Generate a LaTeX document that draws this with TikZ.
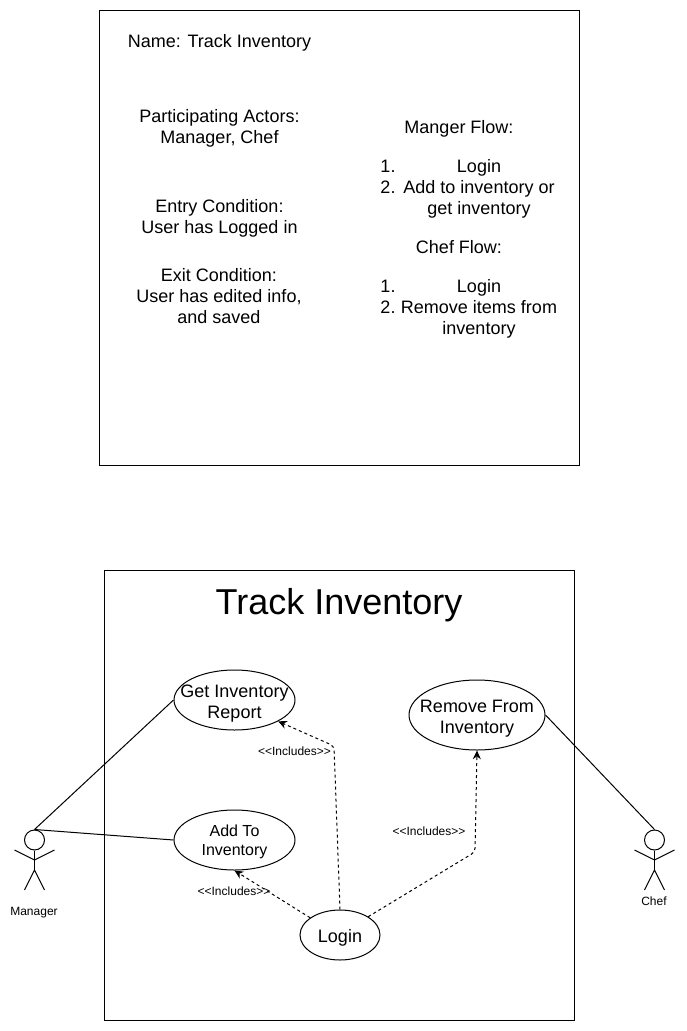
\documentclass[tikz,border=0pt]{standalone}
\usepackage{fontspec}
\setmainfont{Liberation Sans}
\usetikzlibrary{shapes.geometric,arrows.meta}
\tikzset{
  frame/.style={draw,line width=0.75pt,inner sep=0pt},
  body/.style={font=\fontsize{13.5pt}{15.75pt}\selectfont,align=center,inner sep=0pt,text depth=0pt},
  bodysm/.style={font=\fontsize{12pt}{14.5pt}\selectfont,align=center,inner sep=0pt,text depth=0pt},
  small/.style={font=\fontsize{9pt}{11pt}\selectfont,inner sep=0pt},
  usecase/.style={draw,ellipse,line width=0.75pt,inner sep=0pt},
  assoc/.style={line width=0.75pt},
  incl/.style={line width=0.75pt,dash pattern=on 2.25pt off 2.25pt,rounded corners=3pt,-{Stealth[length=6.5pt,width=6pt]}},
  stick/.style={line width=0.75pt},
  head/.style={draw,circle,line width=0.75pt,minimum size=15pt,inner sep=0pt}
}
\newcommand{\actor}[3]{%
  \node[head] (#1) at (#2,#3) {};
  \coordinate (#1hip) at (#2,#3+30);
  \coordinate (#1sh) at (#2,#3+20);
  \coordinate (#1la) at (#2-20,#3+10);
  \coordinate (#1ra) at (#2+20,#3+10);
  \coordinate (#1ll) at (#2-10,#3+50);
  \coordinate (#1rl) at (#2+10,#3+50);
  \draw[stick] (#1.south) -- (#1hip);
  \draw[stick] (#1la) -- (#1sh) -- (#1ra);
  \draw[stick] (#1ll) -- (#1hip) -- (#1rl);
}
\begin{document}
\begin{tikzpicture}[x=0.75pt,y=-0.75pt]
\useasboundingbox[fill=white] (0,0) rectangle (686,1031);
% top card
\node[frame,minimum width=360pt,minimum height=341.25pt] (card) at (339.5,238) {};
\node[body] (name) at (219.5,41) {Name: Track Inventory};
\node[body] (actors) at (219.5,126.5) {Participating Actors:\\Manager, Chef};
\node[body] (entry) at (219.5,216) {Entry Condition:\\User has Logged in};
\node[body] (exit) at (219,296) {Exit Condition:\\User has edited info,\\and saved};
\node[body] (mflow) at (459,127) {Manger Flow:};
\node[body] (m1n) at (388,166) {1.};
\node[body] (m1) at (479,166) {Login};
\node[body] (m2n) at (388,187) {2.};
\node[body] (m2) at (479,187) {Add to inventory or};
\node[body] (m2b) at (479,208) {get inventory};
\node[body] (cflow) at (459,247) {Chef Flow:};
\node[body] (c1n) at (388,286) {1.};
\node[body] (c1) at (479,286) {Login};
\node[body] (c2n) at (388,307) {2.};
\node[body] (c2) at (479,307) {Remove items from};
\node[body] (c2b) at (479,328) {inventory};
% diagram
\node[frame,minimum width=352.5pt,minimum height=337.5pt] (system) at (339.5,795.5) {};
\node[font=\fontsize{27pt}{30pt}\selectfont,inner sep=0pt] (title) at (339,605) {Track Inventory};
\node[usecase,minimum width=90.75pt,minimum height=45pt,label={[body,yshift=-1.5pt]center:Get Inventory\\Report}] (get) at (234.5,700) {};
\node[usecase,minimum width=90.75pt,minimum height=45pt,label={[bodysm]center:Add To\\Inventory}] (add) at (234.5,840) {};
\node[usecase,minimum width=102pt,minimum height=52.5pt,label={[body,yshift=-1.5pt]center:Remove From\\Inventory}] (rem) at (477,715) {};
\node[usecase,minimum width=60pt,minimum height=37.5pt,label={[body,yshift=-0.75pt]center:Login}] (login) at (340,935) {};
\actor{mgr}{34.5}{840}
\actor{chef}{654.5}{840}
\node[small] (mgrl) at (34,913) {Manager};
\node[small] (chefl) at (654,901) {Chef};
\draw[assoc] (mgr.north) -- (get.west);
\draw[assoc] (mgr.north) -- (add.west);
\draw[assoc] (rem.east) -- (chef.north);
\coordinate (b1) at (334,746);
\coordinate (b2) at (475,852);
\draw[incl] (login.north) -- (b1) -- (get.334);
\draw[incl] (login.150) -- (add.south);
\draw[incl] (login.33) -- (b2) -- (rem.south);
\node[small] (i1) at (294.5,751) {<{}<Includes>{}>};
\node[small] (i2) at (429,831) {<{}<Includes>{}>};
\node[small] (i3) at (234,891) {<{}<Includes>{}>};
\end{tikzpicture}
\end{document}
